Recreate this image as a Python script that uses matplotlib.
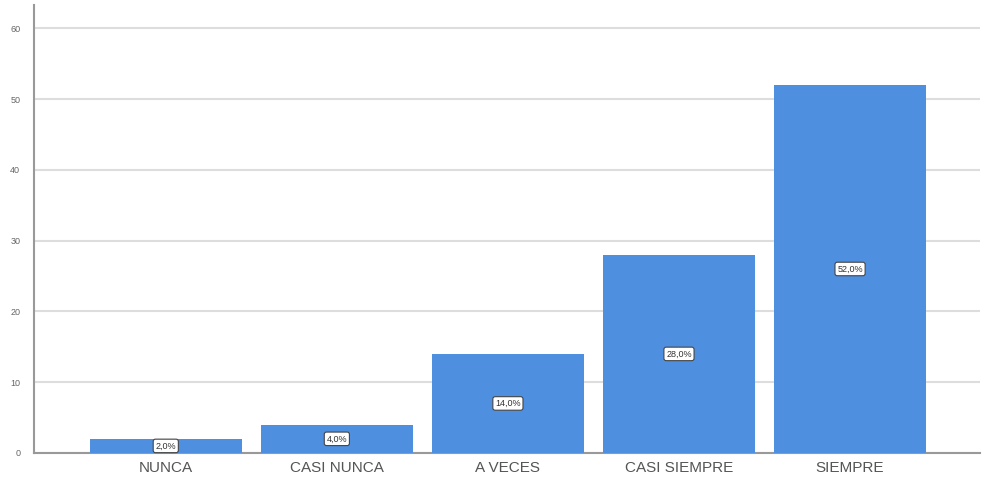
import matplotlib
matplotlib.use("Agg")
import matplotlib.pyplot as plt

# Categories and percentages
categories = ["NUNCA", "CASI NUNCA", "A VECES", "CASI SIEMPRE", "SIEMPRE"]
percentages = [2.0, 4.0, 14.0, 28.0, 52.0]
y_ticks = [0, 10, 20, 30, 40, 50, 60]

plt.rcParams["font.family"] = ["Liberation Sans", "DejaVu Sans"]

fig = plt.figure(figsize=(9.84, 4.82), dpi=100)
ax = fig.add_axes([0.0346, 0.0602, 0.9614, 0.9294])

x = range(len(categories))
bars = ax.bar(x, percentages, width=0.89, color="#4f8fe0", zorder=3)

# Value labels in the middle of each bar
for rect, val in zip(bars, percentages):
    ax.text(rect.get_x() + rect.get_width() / 2, rect.get_height() / 2,
            f"{val:.1f}%".replace(".", ","), ha="center", va="center",
            fontsize=6.5, color="#333333", zorder=4,
            bbox=dict(boxstyle="round,pad=0.25", fc="white", ec="#444444", lw=0.8))

ax.set_xlim(-0.77, 4.76)
ax.set_ylim(0, 63.3)
ax.set_xticks(list(x))
ax.set_xticklabels(categories, fontsize=11, color="#555555")
ax.set_yticks(y_ticks)
ax.set_yticklabels([str(t) for t in y_ticks], fontsize=6.5, color="#666666")
ax.tick_params(axis="both", length=0, pad=6)
ax.tick_params(axis="y", pad=10)

ax.yaxis.grid(True, color="#dddddd", linewidth=1.5, zorder=0)
ax.set_axisbelow(True)
for side in ["top", "right"]:
    ax.spines[side].set_visible(False)
ax.spines["left"].set_color("#999999")
ax.spines["bottom"].set_color("#999999")
ax.spines["left"].set_linewidth(1.5)
ax.spines["bottom"].set_linewidth(1.5)

fig.savefig("out.png", dpi=100)
